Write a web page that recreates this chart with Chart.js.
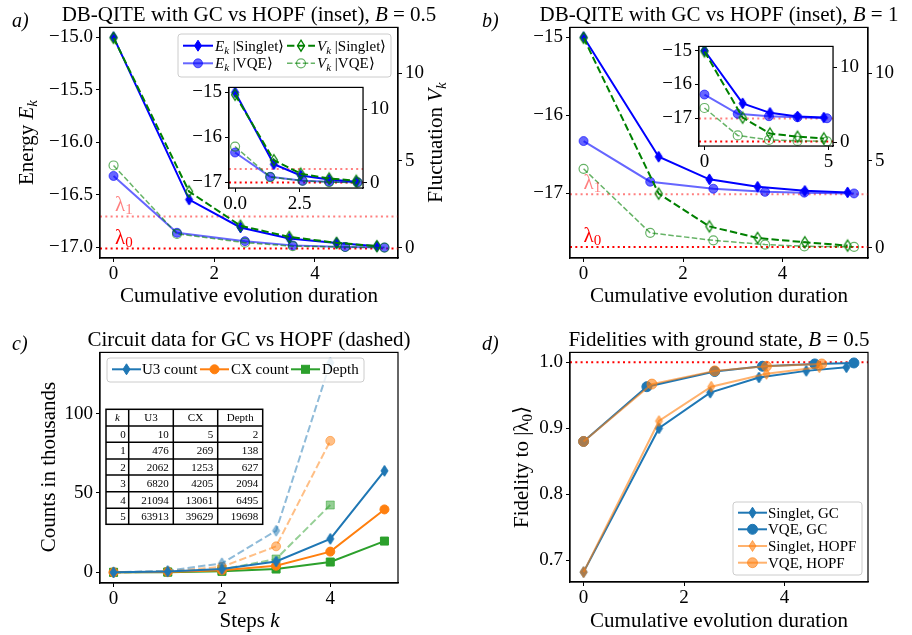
<!DOCTYPE html>
<html><head><meta charset="utf-8">
<script src="https://cdn.jsdelivr.net/npm/chart.js@4.4.1/dist/chart.umd.min.js"></script>
<style>
html,body{margin:0;padding:0;background:#fff;}
body{width:912px;height:635px;overflow:hidden;position:relative;}
canvas{position:absolute;}
#ov{position:absolute;left:0;top:0;z-index:10;pointer-events:none;}
#ov text{font-family:'Liberation Serif',serif;white-space:pre;}
</style></head>
<body>
<svg id="ov" width="912" height="635" xmlns="http://www.w3.org/2000/svg"></svg>
<script>
// ---------------- DATA ----------------
// Panel a) GC, B = 0.5
const timeGCSingletB05   = [0, 1.5, 2.52, 3.49, 4.43, 5.23];
const timeGCVqeB05       = [0, 1.26, 2.61, 3.56, 4.6, 5.38];
const energyGCSingletB05 = [-15.0, -16.545, -16.81, -16.914, -16.957, -16.988];
const energyGCVqeB05     = [-16.32, -16.86, -16.94, -16.98, -16.995, -17.0];
const flucGCSingletB05   = [12.03, 3.23, 1.27, 0.63, 0.29, 0.1];
const flucGCVqeB05       = [4.72, 0.8, 0.3, 0.1, 0.05, 0.02];
// inset a) HOPF, B = 0.5
const timeHOPFSingletB05   = [0, 1.5, 2.54, 3.64, 4.69];
const timeHOPFVqeB05       = [0, 1.36, 2.61, 3.64, 4.74];
const energyHOPFSingletB05 = [-15.0, -16.6, -16.85, -16.94, -16.99];
const energyHOPFVqeB05     = [-16.34, -16.88, -16.97, -16.99, -17.0];
const flucHOPFSingletB05   = [12.0, 3.1, 1.26, 0.61, 0.3];
const flucHOPFVqeB05       = [4.95, 0.8, 0.3, 0.12, 0.05];
// Panel b) GC, B = 1
const timeGCSingletB1   = [0, 1.51, 2.53, 3.5, 4.45, 5.31];
const timeGCVqeB1       = [0, 1.34, 2.61, 3.65, 4.44, 5.44];
const energyGCSingletB1 = [-15.0, -16.53, -16.82, -16.915, -16.967, -16.987];
const energyGCVqeB1     = [-16.33, -16.85, -16.94, -16.98, -16.99, -17.0];
const flucGCSingletB1   = [12.03, 3.11, 1.23, 0.57, 0.32, 0.13];
const flucGCVqeB1       = [4.53, 0.86, 0.43, 0.19, 0.09, 0.06];
// inset b) HOPF, B = 1
const timeHOPFSingletB1   = [0, 1.54, 2.64, 3.75, 4.81];
const timeHOPFVqeB1       = [0, 1.34, 2.6, 3.75, 4.94];
const energyHOPFSingletB1 = [-15.0, -16.56, -16.84, -16.95, -16.98];
const energyHOPFVqeB1     = [-16.3, -16.87, -16.94, -16.97, -17.0];
const flucHOPFSingletB1   = [12.1, 3.28, 1.15, 0.73, 0.5];
const flucHOPFVqeB1       = [4.56, 0.9, 0.3, 0.17, 0.12];
// eigenvalues [lambda0, lambda1]
const lambdaB05 = [-17.01, -16.705];
const lambdaB1  = [-17.685, -17.01];
// Panel c) circuit data
const steps      = [0, 1, 2, 3, 4, 5];
const u3GC       = [10, 476, 2062, 6820, 21094, 63913];
const cxGC       = [5, 269, 1253, 4205, 13061, 39629];
const depthGC    = [2, 138, 627, 2094, 6495, 19698];
const stepsHOPF  = [0, 1, 2, 3, 4];
const u3HOPFk    = [0.01, 1.0, 5.7, 26.2, 132.0];   // thousands
const cxHOPFk    = [0.005, 0.6, 3.5, 16.4, 82.8];
const depthHOPFk = [0.002, 0.3, 1.8, 8.4, 42.4];
// Panel d) fidelities, B = 0.5
const fidGCSinglet   = [0.682, 0.9, 0.954, 0.977, 0.987, 0.9925];
const fidGCVqe       = [0.88, 0.963, 0.986, 0.994, 0.9975, 0.999];
const fidHOPFSinglet = [0.682, 0.911, 0.963, 0.9825, 0.9925];
const fidHOPFVqe     = [0.88, 0.967, 0.987, 0.994, 0.9975];
const fidTarget      = 1.0;
// tick values
const ticksTimeMain    = [0, 2, 4];
const ticksEnergyA     = [-17.0, -16.5, -16.0, -15.5, -15.0];
const ticksEnergyB     = [-17, -16, -15];
const ticksFluc        = [0, 5, 10];
const ticksTimeInsetA  = [0, 2.5];
const ticksTimeInsetB  = [0, 5];
const ticksEnergyInset = [-17, -16, -15];
const ticksFlucInset   = [0, 10];
const ticksSteps       = [0, 2, 4];
const ticksCounts      = [0, 50, 100];
const ticksFidelity    = [0.7, 0.8, 0.9, 1.0];
// table labels
const tableHeader = ['k', 'U3', 'CX', 'Depth'];

// ---------------- STYLE ----------------
const FONT = "'Liberation Serif', serif";
Chart.defaults.font.family = FONT;
Chart.defaults.color = '#000';
const BLUE = 'rgb(0,0,255)', LBLUE = 'rgba(0,0,255,0.6)';
const GREEN = 'rgb(0,128,0)', LGREEN = 'rgba(0,128,0,0.6)';
const RED = 'rgb(255,0,0)', LRED = 'rgba(255,0,0,0.5)';
const TB = '#1f77b4', TO = '#ff7f0e', TG = '#2ca02c';
const TBa = 'rgba(31,119,180,0.5)', TOa = 'rgba(255,127,14,0.5)', TGa = 'rgba(44,160,44,0.5)';
const TO6 = 'rgba(255,127,14,0.6)';

function thinDiamond(w, h, fill, stroke, lw) {
  const c = document.createElement('canvas');
  c.width = Math.ceil(w + 2*lw + 2); c.height = Math.ceil(h + 2*lw + 2);
  const x = c.getContext('2d'); const cx = c.width/2, cy = c.height/2;
  x.beginPath(); x.moveTo(cx, cy - h/2); x.lineTo(cx + w/2, cy); x.lineTo(cx, cy + h/2); x.lineTo(cx - w/2, cy); x.closePath();
  if (fill) { x.fillStyle = fill; x.fill(); }
  x.strokeStyle = stroke; x.lineWidth = lw; x.stroke();
  return c;
}
const zip = (xs, ys) => xs.map((v, i) => ({x: v, y: ys[i]}));
const hline = (range, v) => [{x: range[0], y: v}, {x: range[1], y: v}];
const fmt = d => v => (v < 0 ? '\u2212' : '') + Math.abs(v).toFixed(d);

function scale(axis, position, min, max, ticks, f, size, pad) {
  return {
    type: 'linear', axis, position, min, max, bounds: 'data',
    afterBuildTicks: s => { s.ticks = ticks.map(v => ({value: v})); },
    afterFit: s => { if (axis === 'x') s.height = size; else s.width = size; },
    ticks: {autoSkip: false, maxRotation: 0, minRotation: 0, padding: pad, color: '#000',
            font: {size: 19, family: FONT}, callback: v => f(v)},
    grid: {display: true, drawOnChartArea: false, drawTicks: true, tickLength: 4, color: '#000', lineWidth: 1},
    border: {display: true, color: '#000', width: 1.2}
  };
}

const framePlugin = {
  id: 'frame',
  beforeDatasetsDraw(chart, args, o) {
    if (o && o.bg) { const a = chart.chartArea, c = chart.ctx; c.save(); c.fillStyle = '#fff'; c.fillRect(a.left, a.top, a.right - a.left, a.bottom - a.top); c.restore(); }
  },
  afterDraw(chart) {
    const a = chart.chartArea, c = chart.ctx;
    c.save(); c.strokeStyle = '#000'; c.lineWidth = 1.2; c.strokeRect(a.left, a.top, a.right - a.left, a.bottom - a.top); c.restore();
  }
};
const lambdaPlugin = {
  id: 'lambdaLabels',
  afterDatasetsDraw(chart, args, o) {
    if (!o || !o.values) return;
    const c = chart.ctx, xs = chart.scales.x, ys = chart.scales.y;
    o.values.forEach((v, i) => {
      const px = xs.getPixelForValue(o.x), py = ys.getPixelForValue(v) - 5;
      c.save(); c.fillStyle = o.colors[i]; c.textBaseline = 'alphabetic'; c.textAlign = 'left';
      c.font = '21px ' + FONT; c.fillText('\u03bb', px, py);
      const w = c.measureText('\u03bb').width;
      c.font = '15px ' + FONT; c.fillText(String(i), px + w, py + 3);
      c.restore();
    });
  }
};

function makeChart(box, pad, scales, datasets, pluginOpts) {
  const c = document.createElement('canvas');
  const W = box.r - box.l + pad.l + pad.r, H = box.b - box.t + pad.t + pad.b;
  c.width = W; c.height = H;
  c.style.left = (box.l - pad.l) + 'px'; c.style.top = (box.t - pad.t) + 'px';
  c.style.width = W + 'px'; c.style.height = H + 'px';
  document.body.insertBefore(c, document.getElementById('ov'));
  const hasRight = !!scales.y2;
  return new Chart(c, {
    type: 'line',
    data: {datasets},
    options: {
      responsive: false, animation: false, devicePixelRatio: 1,
      layout: {padding: {top: pad.t, left: 0, right: hasRight ? 0 : pad.r, bottom: 0}},
      plugins: Object.assign({legend: {display: false}, tooltip: {enabled: false}}, pluginOpts || {}),
      scales
    },
    plugins: [framePlugin, lambdaPlugin]
  });
}

function ds(data, o) {
  return Object.assign({data, tension: 0, fill: false, borderWidth: 2, pointBorderWidth: 1, yAxisID: 'y'}, o);
}
const noPts = {pointRadius: 0, pointHoverRadius: 0};

// marker images
const dBlue = thinDiamond(7, 11, BLUE, BLUE, 1);
const dGreenOpen = thinDiamond(7, 11, null, GREEN, 1.3);
const dTB = thinDiamond(7, 11, TB, TB, 1);
const dTBa = thinDiamond(7, 11, TBa, TBa, 1);
const dTO6 = thinDiamond(7, 11, TO6, TO6, 1);

function energyDatasets(tS, eS, vS, tV, eV, vV, lam, xr) {
  return [
    ds(zip(tS, vS), {yAxisID: 'y2', borderColor: GREEN, borderDash: [7.4, 3.2], pointStyle: dGreenOpen, pointRadius: 4}),
    ds(zip(tV, vV), {yAxisID: 'y2', borderColor: LGREEN, borderWidth: 1.5, borderDash: [5.5, 2.4], pointStyle: 'circle', pointRadius: 4.5, pointBackgroundColor: 'rgba(0,0,0,0)', pointBorderColor: LGREEN, pointBorderWidth: 1.2}),
    ds(zip(tS, eS), {borderColor: BLUE, pointStyle: dBlue, pointRadius: 4}),
    ds(zip(tV, eV), {borderColor: LBLUE, pointStyle: 'circle', pointRadius: 4.5, pointBackgroundColor: LBLUE, pointBorderColor: LBLUE}),
    ds(hline(xr, lam[1]), Object.assign({borderColor: LRED, borderDash: [2, 3.3]}, noPts)),
    ds(hline(xr, lam[0]), Object.assign({borderColor: RED, borderDash: [2, 3.3]}, noPts))
  ];
}

// ---------- Panel a ----------
const xrA = [-0.269, 5.649];
makeChart({l: 100, r: 398, t: 27, b: 258}, {l: 90, r: 45, t: 14, b: 34}, {
  x: scale('x', 'bottom', xrA[0], xrA[1], ticksTimeMain, fmt(0), 34, 1),
  y: scale('y', 'left', -17.10, -14.908, ticksEnergyA, fmt(1), 90, 3),
  y2: scale('y', 'right', -0.58, 12.63, ticksFluc, fmt(0), 45, 3)
}, energyDatasets(timeGCSingletB05, energyGCSingletB05, flucGCSingletB05, timeGCVqeB05, energyGCVqeB05, flucGCVqeB05, lambdaB05, xrA),
{lambdaLabels: {values: lambdaB05, x: 0.03, colors: [RED, LRED]}});

const xrAi = [-0.235, 4.95];
makeChart({l: 229, r: 363, t: 83, b: 188}, {l: 42, r: 32, t: 10, b: 26}, {
  x: scale('x', 'bottom', xrAi[0], xrAi[1], ticksTimeInsetA, fmt(1), 26, 1),
  y: scale('y', 'left', -17.13, -14.89, ticksEnergyInset, fmt(0), 42, 3),
  y2: scale('y', 'right', -0.69, 13.0, ticksFlucInset, fmt(0), 32, 3)
}, energyDatasets(timeHOPFSingletB05, energyHOPFSingletB05, flucHOPFSingletB05, timeHOPFVqeB05, energyHOPFVqeB05, flucHOPFVqeB05, lambdaB05, xrAi),
{frame: {bg: true}});

// ---------- Panel b ----------
const xrB = [-0.273, 5.72];
makeChart({l: 570, r: 868, t: 27, b: 258}, {l: 70, r: 42, t: 14, b: 34}, {
  x: scale('x', 'bottom', xrB[0], xrB[1], ticksTimeMain, fmt(0), 34, 1),
  y: scale('y', 'left', -17.826, -14.876, ticksEnergyB, fmt(0), 70, 3),
  y2: scale('y', 'right', -0.58, 12.63, ticksFluc, fmt(0), 42, 3)
}, energyDatasets(timeGCSingletB1, energyGCSingletB1, flucGCSingletB1, timeGCVqeB1, energyGCVqeB1, flucGCVqeB1, lambdaB1, xrB),
{lambdaLabels: {values: lambdaB1, x: 0.0, colors: [RED, LRED]}});

const xrBi = [-0.22, 5.18];
makeChart({l: 699, r: 833, t: 42, b: 146}, {l: 42, r: 32, t: 10, b: 26}, {
  x: scale('x', 'bottom', xrBi[0], xrBi[1], ticksTimeInsetB, fmt(0), 26, 1),
  y: scale('y', 'left', -17.82, -14.878, ticksEnergyInset, fmt(0), 42, 3),
  y2: scale('y', 'right', -0.51, 12.77, ticksFlucInset, fmt(0), 32, 3)
}, energyDatasets(timeHOPFSingletB1, energyHOPFSingletB1, flucHOPFSingletB1, timeHOPFVqeB1, energyHOPFVqeB1, flucHOPFVqeB1, lambdaB1, xrBi),
{frame: {bg: true}});

// ---------- Panel c ----------
const k = v => v / 1000;
makeChart({l: 100, r: 398, t: 352, b: 583}, {l: 60, r: 8, t: 14, b: 34}, {
  x: scale('x', 'bottom', -0.25, 5.25, ticksSteps, fmt(0), 34, 1),
  y: scale('y', 'left', -6.7, 138.5, ticksCounts, fmt(0), 60, 3)
}, [
  ds(zip(steps, u3GC.map(k)), {borderColor: TB, pointStyle: dTB, pointRadius: 4}),
  ds(zip(steps, cxGC.map(k)), {borderColor: TO, pointStyle: 'circle', pointRadius: 4.5, pointBackgroundColor: TO, pointBorderColor: TO}),
  ds(zip(steps, depthGC.map(k)), {borderColor: TG, pointStyle: 'rect', pointRadius: 5.66, pointBackgroundColor: TG, pointBorderColor: TG}),
  ds(zip(stepsHOPF, u3HOPFk), {borderColor: TBa, borderDash: [7.4, 3.2], pointStyle: dTBa, pointRadius: 4}),
  ds(zip(stepsHOPF, cxHOPFk), {borderColor: TOa, borderDash: [7.4, 3.2], pointStyle: 'circle', pointRadius: 4.5, pointBackgroundColor: TOa, pointBorderColor: TOa}),
  ds(zip(stepsHOPF, depthHOPFk), {borderColor: TGa, borderDash: [7.4, 3.2], pointStyle: 'rect', pointRadius: 5.66, pointBackgroundColor: TGa, pointBorderColor: TGa})
]);

// ---------- Panel d ----------
const xrD = [-0.27, 5.66];
makeChart({l: 570, r: 868, t: 352, b: 582}, {l: 60, r: 8, t: 14, b: 34}, {
  x: scale('x', 'bottom', xrD[0], xrD[1], ticksTimeMain, fmt(0), 34, 1),
  y: scale('y', 'left', 0.667, 1.015, ticksFidelity, fmt(1), 60, 3)
}, [
  ds(zip(timeHOPFVqeB05, fidHOPFVqe), {borderColor: TO6, pointStyle: 'circle', pointRadius: 5, pointBackgroundColor: TO6, pointBorderColor: TO6}),
  ds(zip(timeHOPFSingletB05, fidHOPFSinglet), {borderColor: TO6, pointStyle: dTO6, pointRadius: 4}),
  ds(zip(timeGCVqeB05, fidGCVqe), {borderColor: TB, pointStyle: 'circle', pointRadius: 5, pointBackgroundColor: TB, pointBorderColor: TB}),
  ds(zip(timeGCSingletB05, fidGCSinglet), {borderColor: TB, pointStyle: dTB, pointRadius: 4}),
  ds(hline(xrD, fidTarget), Object.assign({borderColor: RED, borderDash: [2, 3.3]}, noPts))
]);

// ---------------- TEXT OVERLAY ----------------
let S = '';
function T(x, y, html, o) {
  o = o || {};
  const size = o.size || 21, anchor = o.anchor || 'start', fill = o.fill || '#000';
  const tr = o.rot ? ` transform="rotate(${o.rot} ${x} ${y})"` : '';
  const it = o.italic ? ' font-style="italic"' : '';
  S += `<text x="${x}" y="${y}" font-size="${size}" text-anchor="${anchor}" fill="${fill}"${tr}${it}>${html}</text>`;
}
const I = t => `<tspan font-style="italic">${t}</tspan>`;
const SUBI = (t, size, d) => `<tspan font-style="italic" font-size="${size}" dy="${d}">${t}</tspan>`;
function Ln(x1, x2, y, color, lw, dash) { S += `<line x1="${x1}" y1="${y}" x2="${x2}" y2="${y}" stroke="${color}" stroke-width="${lw}"${dash ? ` stroke-dasharray="${dash}"` : ''}/>`; }
function MD(cx, cy, w, h, fill, stroke, lw) { S += `<path d="M${cx} ${cy - h/2}L${cx + w/2} ${cy}L${cx} ${cy + h/2}L${cx - w/2} ${cy}Z" fill="${fill}" stroke="${stroke}" stroke-width="${lw || 1}"/>`; }
function MC(cx, cy, r, fill, stroke, lw) { S += `<circle cx="${cx}" cy="${cy}" r="${r}" fill="${fill}" stroke="${stroke}" stroke-width="${lw || 1}"/>`; }
function MS(cx, cy, a, fill) { S += `<rect x="${cx - a/2}" y="${cy - a/2}" width="${a}" height="${a}" fill="${fill}" stroke="${fill}"/>`; }
function Box(x, y, w, h) { S += `<rect x="${x}" y="${y}" width="${w}" height="${h}" rx="3" fill="#fff" fill-opacity="0.8" stroke="#cccccc" stroke-width="1"/>`; }

// titles
T(249, 20.5, `DB-QITE with GC vs HOPF (inset), ${I('B')} = 0.5`, {anchor: 'middle'});
T(719, 20.5, `DB-QITE with GC vs HOPF (inset), ${I('B')} = 1`, {anchor: 'middle'});
T(249, 346, `Circuit data for GC vs HOPF (dashed)`, {anchor: 'middle'});
T(719, 346, `Fidelities with ground state, ${I('B')} = 0.5`, {anchor: 'middle'});
// panel letters
T(12, 27, 'a)', {italic: true, size: 20});
T(482, 27, 'b)', {italic: true, size: 20});
T(12, 350, 'c)', {italic: true, size: 20});
T(482, 350, 'd)', {italic: true, size: 20});
// axis labels
T(249, 301.5, 'Cumulative evolution duration', {anchor: 'middle'});
T(719, 301.5, 'Cumulative evolution duration', {anchor: 'middle'});
T(249.5, 626.5, `Steps ${I('k')}`, {anchor: 'middle'});
T(719, 626.5, 'Cumulative evolution duration', {anchor: 'middle'});
T(33, 142.5, `Energy ${I('E')}${SUBI('k', 15, 4)}`, {anchor: 'middle', rot: -90});
T(442, 142.5, `Fluctuation ${I('V')}${SUBI('k', 15, 4)}`, {anchor: 'middle', rot: -90});
T(55, 467, 'Counts in thousands', {anchor: 'middle', rot: -90});
T(528, 467, `Fidelity to |\u03bb<tspan font-size="15" dy="4">0</tspan><tspan dy="-4">\u27e9</tspan>`, {anchor: 'middle', rot: -90});

// legend a
const ek = (s) => `${I('E')}${SUBI('k', 11, 3)}<tspan dy="-3"> ${s}</tspan>`;
const vk = (s) => `${I('V')}${SUBI('k', 11, 3)}<tspan dy="-3"> ${s}</tspan>`;
Box(178, 34, 213, 43);
Ln(183, 213, 45.7, BLUE, 2); MD(198, 45.7, 7, 11, BLUE, BLUE, 1); T(215, 50.7, ek('|Singlet\u27e9'), {size: 15});
Ln(287, 315, 45.7, GREEN, 2, '7.4 3.2'); MD(301, 45.7, 7, 11, 'none', GREEN, 1.3); T(317, 50.7, vk('|Singlet\u27e9'), {size: 15});
Ln(183, 213, 63.3, LBLUE, 2); MC(198, 63.3, 4.5, LBLUE, LBLUE, 1); T(215, 68.3, ek('|VQE\u27e9'), {size: 15});
Ln(287, 315, 63.3, LGREEN, 1.5, '5.5 2.4'); MC(301, 63.3, 4.5, 'none', LGREEN, 1.2); T(317, 68.3, vk('|VQE\u27e9'), {size: 15});

// legend c
Box(107, 358, 257, 24);
Ln(112, 141, 369.3, TB, 2); MD(126.5, 369.3, 7, 11, TB, TB, 1); T(142, 374.3, 'U3 count', {size: 15});
Ln(200, 229, 369.3, TO, 2); MC(214.5, 369.3, 4.5, TO, TO, 1); T(231, 374.3, 'CX count', {size: 15});
Ln(291, 320, 369.3, TG, 2); MS(305.5, 369.3, 8, TG); T(322, 374.3, 'Depth', {size: 15});

// legend d
Box(733, 502, 129, 73);
const rowsD = [512.7, 529.3, 546, 562.7];
Ln(738, 767, rowsD[0], TB, 2); MD(752.5, rowsD[0], 7, 11, TB, TB, 1); T(768, rowsD[0] + 5, 'Singlet, GC', {size: 15});
Ln(738, 767, rowsD[1], TB, 2); MC(752.5, rowsD[1], 5, TB, TB, 1); T(768, rowsD[1] + 5, 'VQE, GC', {size: 15});
Ln(738, 767, rowsD[2], TO6, 2); MD(752.5, rowsD[2], 7, 11, TO6, TO6, 1); T(768, rowsD[2] + 5, 'Singlet, HOPF', {size: 15});
Ln(738, 767, rowsD[3], TO6, 2); MC(752.5, rowsD[3], 5, TO6, TO6, 1); T(768, rowsD[3] + 5, 'VQE, HOPF', {size: 15});

// table (panel c)
const colX = [106, 128.7, 173.3, 217.7, 262.7];
const rowY = [409.3, 426, 442.3, 459, 475, 491.7, 508.3, 524.3];
S += `<rect x="${colX[0]}" y="${rowY[0]}" width="${colX[4] - colX[0]}" height="${rowY[7] - rowY[0]}" fill="#fff" stroke="#000" stroke-width="1.5"/>`;
colX.slice(1, 4).forEach(x => { S += `<line x1="${x}" y1="${rowY[0]}" x2="${x}" y2="${rowY[7]}" stroke="#000" stroke-width="1.5"/>`; });
rowY.slice(1, 7).forEach(y => { S += `<line x1="${colX[0]}" y1="${y}" x2="${colX[4]}" y2="${y}" stroke="#000" stroke-width="1.5"/>`; });
tableHeader.forEach((h, j) => {
  const cx = (colX[j] + colX[j + 1]) / 2, cy = (rowY[0] + rowY[1]) / 2 + 3.7;
  T(cx, cy, j === 0 ? I(h) : h, {size: 11, anchor: 'middle'});
});
steps.forEach((kk, i) => {
  const vals = [kk, u3GC[i], cxGC[i], depthGC[i]];
  const cy = (rowY[i + 1] + rowY[i + 2]) / 2 + 3.7;
  vals.forEach((v, j) => { T(colX[j + 1] - (j === 0 ? 3 : 4.5), cy, String(v), {size: 11, anchor: 'end'}); });
});

document.getElementById('ov').innerHTML = S;
</script>
</body></html>
